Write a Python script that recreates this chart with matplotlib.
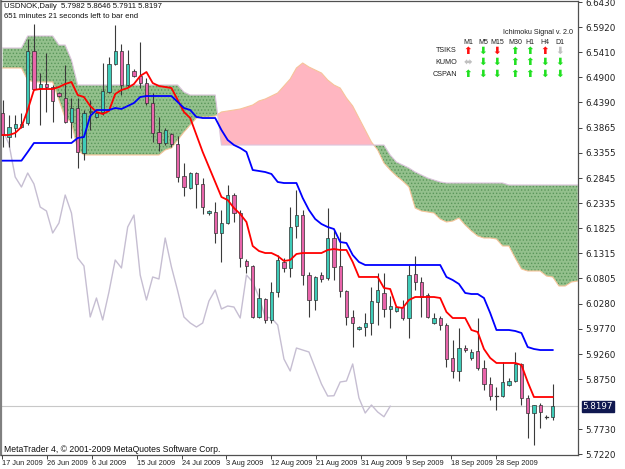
import numpy as np
import matplotlib
matplotlib.use('Agg')
import matplotlib.pyplot as plt
from matplotlib.patches import Rectangle
from matplotlib.transforms import blended_transform_factory

# ---------------- data (USDNOK daily) ----------------
opens = [6.4169, 6.3680, 6.3864, 6.3884, 6.3966, 6.5432, 6.4678, 6.4760, 6.4699, 6.4577,
         6.4475, 6.3986, 6.4271, 6.3354, 6.4190, 6.4088, 6.4190, 6.4597, 6.5167, 6.5432,
         6.4740, 6.5025, 6.4923, 6.4780, 6.4373, 6.3782, 6.3558, 6.3741, 6.3538, 6.2886,
         6.2641, 6.2947, 6.2723, 6.2132, 6.2153, 6.1725, 6.1929, 6.2499, 6.2132, 6.1155,
         6.1053, 6.0014, 6.0380, 5.9953, 6.0523, 6.1134, 6.1012, 6.1867, 6.2091, 6.0869,
         6.0360, 6.0869, 6.0808, 6.1623, 6.1053, 6.0544, 6.0014, 5.9769, 5.9810, 5.9892,
         6.0319, 6.0503, 6.0177, 6.0136, 6.0217, 5.9993, 6.0890, 6.0727, 6.0462, 5.9892,
         5.9993, 5.9851, 5.9179, 5.8914, 5.9382, 5.9179, 5.9321, 5.8975, 5.8649, 5.8404,
         5.8404, 5.8629, 5.8710, 5.9057, 5.8364, 5.8058, 5.8221, 5.7977, 5.7982]
highs = [6.4434, 6.4128, 6.4128, 6.4169, 6.5677, 6.5982, 6.4984, 6.5391, 6.4740, 6.4597,
         6.5147, 6.4475, 6.4475, 6.4230, 6.4434, 6.4210, 6.5188, 6.5310, 6.5962, 6.5575,
         6.5453, 6.5065, 6.5615, 6.4882, 6.4577, 6.4088, 6.3864, 6.3762, 6.3701, 6.3151,
         6.2967, 6.2967, 6.2845, 6.2193, 6.2356, 6.2193, 6.2703, 6.2540, 6.2193, 6.1195,
         6.1073, 6.0605, 6.0401, 6.0727, 6.1277, 6.1216, 6.2254, 6.2601, 6.2193, 6.0931,
         6.0850, 6.0931, 6.2234, 6.1786, 6.1745, 6.0564, 6.0156, 5.9830, 6.0095, 6.0625,
         6.0910, 6.0910, 6.0442, 6.0238, 6.0360, 6.1073, 6.1256, 6.0829, 6.0503, 6.0095,
         6.0034, 5.9892, 5.9545, 5.9790, 5.9443, 5.9362, 5.9993, 5.9138, 5.8792, 5.8588,
         5.9097, 5.8771, 5.9301, 5.9077, 5.8425, 5.8221, 5.8262, 5.8017, 5.8646]
lows = [6.3477, 6.3477, 6.3680, 6.3864, 6.3925, 6.4638, 6.3925, 6.4190, 6.3986, 6.4495,
        6.3966, 6.3660, 6.3049, 6.3212, 6.3823, 6.4067, 6.4128, 6.4577, 6.5147, 6.4536,
        6.4699, 6.4902, 6.4678, 6.4332, 6.3578, 6.3395, 6.3517, 6.3477, 6.2764, 6.2479,
        6.2621, 6.2234, 6.2112, 6.2091, 6.1521, 6.1134, 6.1908, 6.1949, 6.1032, 6.0910,
        5.9993, 5.9993, 5.9892, 5.9892, 6.0421, 6.0931, 6.0829, 6.1623, 6.0666, 6.0014,
        6.0156, 6.0727, 6.0767, 6.0767, 6.0421, 5.9851, 5.9402, 5.9749, 5.9627, 5.9647,
        5.9851, 6.0014, 5.9790, 6.0116, 5.9953, 5.9586, 6.0564, 6.0014, 5.9993, 5.9871,
        5.9749, 5.8995, 5.8771, 5.8710, 5.9301, 5.9138, 5.8934, 5.8527, 5.8323, 5.8119,
        5.8384, 5.8608, 5.8690, 5.8221, 5.7549, 5.7406, 5.7753, 5.7936, 5.7911]
closes = [6.3721, 6.3884, 6.3945, 6.3950, 6.5432, 6.4658, 6.4760, 6.4699, 6.4414, 6.4515,
          6.3986, 6.4271, 6.3375, 6.4169, 6.4210, 6.4169, 6.4617, 6.5167, 6.5432, 6.4740,
          6.5167, 6.4923, 6.4780, 6.4373, 6.3762, 6.3558, 6.3823, 6.3538, 6.2866, 6.2662,
          6.2947, 6.2723, 6.2254, 6.2173, 6.1725, 6.1929, 6.2499, 6.2132, 6.1216, 6.1053,
          6.0014, 6.0401, 5.9953, 6.0523, 6.1175, 6.1012, 6.1847, 6.2091, 6.0869, 6.0360,
          6.0829, 6.0788, 6.1623, 6.1032, 6.0544, 6.0014, 5.9892, 5.9810, 5.9892, 6.0340,
          6.0564, 6.0177, 6.0238, 6.0217, 5.9993, 6.0869, 6.0727, 6.0421, 6.0014, 5.9993,
          5.9851, 5.9158, 5.8914, 5.9382, 5.9341, 5.9301, 5.8975, 5.8649, 5.8404, 5.8410,
          5.8690, 5.8710, 5.9057, 5.8364, 5.8058, 5.8221, 5.8078, 5.7982, 5.8197]

tenkan = [6.3721, 6.3721, 6.3762, 6.3884, 6.4230, 6.4638, 6.4658, 6.4658, 6.4658, 6.4699,
          6.4760, 6.4801, 6.4536, 6.4495, 6.4312, 6.4190, 6.4149, 6.4210, 6.4556, 6.4638,
          6.4678, 6.4760, 6.4923, 6.5004, 6.4780, 6.4719, 6.4699, 6.4678, 6.4434, 6.4190,
          6.4067, 6.3721, 6.3375, 6.3069, 6.2764, 6.2458, 6.2397, 6.2234, 6.2112, 6.1949,
          6.1460, 6.1358, 6.1317, 6.1317, 6.1256, 6.1155, 6.1175, 6.1297, 6.1317, 6.1317,
          6.1317, 6.1317, 6.1379, 6.1399, 6.1379, 6.1379, 6.1134, 6.0829, 6.0829, 6.0829,
          6.0829, 6.0605, 6.0584, 6.0217, 6.0197, 6.0360, 6.0421, 6.0421, 6.0421, 6.0421,
          6.0401, 6.0116, 5.9993, 5.9993, 5.9993, 5.9749, 5.9708, 5.9362, 5.9179, 5.9077,
          5.9077, 5.9077, 5.9077, 5.9036, 5.8690, 5.8384, 5.8384, 5.8384, 5.8384]
kijun = [6.3198, 6.3198, 6.3198, 6.3198, 6.3375, 6.3558, 6.3558, 6.3558, 6.3558, 6.3558,
         6.3558, 6.3558, 6.3660, 6.3680, 6.4108, 6.4230, 6.4230, 6.4230, 6.4271, 6.4251,
         6.4312, 6.4373, 6.4495, 6.4515, 6.4515, 6.4515, 6.4515, 6.4515, 6.4393, 6.4271,
         6.4230, 6.4088, 6.4067, 6.4067, 6.4067, 6.3823, 6.3619, 6.3517, 6.3456, 6.3375,
         6.3008, 6.2988, 6.2967, 6.2927, 6.2764, 6.2743, 6.2743, 6.2743, 6.2438, 6.2193,
         6.2010, 6.1908, 6.1847, 6.1806, 6.1541, 6.1521, 6.1277, 6.1134, 6.1073, 6.1073,
         6.1073, 6.1073, 6.1073, 6.1073, 6.1073, 6.1073, 6.1073, 6.1073, 6.1073, 6.1073,
         6.1073, 6.0829, 6.0767, 6.0686, 6.0503, 6.0482, 6.0482, 6.0401, 6.0095, 5.9749,
         5.9749, 5.9749, 5.9729, 5.9688, 5.9402, 5.9362, 5.9341, 5.9341, 5.9341]
span_a = [6.5086, 6.5086, 6.5086, 6.5086, 6.4841, 6.4801, 6.4801, 6.4801, 6.4801, 6.4434,
          6.4067, 6.3986, 6.3416, 6.3314, 6.3314, 6.3314, 6.3314, 6.3314, 6.3314, 6.3314,
          6.3314, 6.3314, 6.3314, 6.3314, 6.3314, 6.3314, 6.3416, 6.3456, 6.3619, 6.3782,
          6.3925, 6.4067, 6.4088, 6.4088, 6.4108, 6.4190, 6.4210, 6.4230, 6.4251, 6.4291,
          6.4332, 6.4414, 6.4454, 6.4515, 6.4577, 6.4719, 6.4862, 6.5086, 6.5188, 6.5106,
          6.5045, 6.4984, 6.4841, 6.4740, 6.4678, 6.4475, 6.4312, 6.4067, 6.3823, 6.3578,
          6.3416, 6.3151, 6.3008, 6.2886, 6.2784, 6.2662, 6.2234, 6.2173, 6.2153, 6.2132,
          6.2010, 6.1949, 6.1969, 6.2030, 6.1888, 6.1766, 6.1664, 6.1623, 6.1623, 6.1603,
          6.1460, 6.1460, 6.1216, 6.0992, 6.0951, 6.0951, 6.0951, 6.0849, 6.0829, 6.0645,
          6.0645, 6.0727, 6.0747]
span_b = [6.5493, 6.5493, 6.5493, 6.5493, 6.5738, 6.5738, 6.5738, 6.5738, 6.5738, 6.5554,
          6.5554, 6.5249, 6.4740, 6.4740, 6.4740, 6.4740, 6.4740, 6.4740, 6.4740, 6.4740,
          6.4740, 6.4740, 6.4740, 6.4740, 6.4740, 6.4740, 6.4740, 6.4740, 6.4740, 6.4597,
          6.4536, 6.4536, 6.4536, 6.4536, 6.4536, 6.3517, 6.3517, 6.3517, 6.3517, 6.3517,
          6.3517, 6.3517, 6.3517, 6.3517, 6.3517, 6.3517, 6.3517, 6.3517, 6.3517, 6.3517,
          6.3517, 6.3517, 6.3517, 6.3517, 6.3517, 6.3517, 6.3517, 6.3517, 6.3517, 6.3517,
          6.3517, 6.3517, 6.3314, 6.3171, 6.3110, 6.3049, 6.2967, 6.2906, 6.2845, 6.2804,
          6.2764, 6.2743, 6.2743, 6.2743, 6.2743, 6.2743, 6.2743, 6.2743, 6.2743, 6.2743,
          6.2743, 6.2703, 6.2703, 6.2703, 6.2703, 6.2703, 6.2703, 6.2703, 6.2703, 6.2703,
          6.2703, 6.2703, 6.2703]
chikou_shift = 26

price_ticks = [6.6430, 6.5920, 6.5410, 6.4900, 6.4390, 6.3865, 6.3355, 6.2845, 6.2335,
               6.1825, 6.1315, 6.0805, 6.0280, 5.9770, 5.9260, 5.8750, 5.7730, 5.7220]
date_labels = ['17 Jun 2009', '26 Jun 2009', '6 Jul 2009', '15 Jul 2009', '24 Jul 2009',
               '3 Aug 2009', '12 Aug 2009', '21 Aug 2009', '31 Aug 2009', '9 Sep 2009',
               '18 Sep 2009', '28 Sep 2009']
date_bars = [-0.1, 7.1, 14.3, 21.5, 28.7, 35.7, 43.0, 50.1, 57.3, 64.5, 71.7, 79.0]

title_text = 'USDNOK,Daily  5.7982 5.8646 5.7911 5.8197'
timer_text = '651 minutes 21 seconds left to bar end'
copyright_text = 'MetaTrader 4, \u00a9 2001-2009 MetaQuotes Software Corp.'

panel_title = 'Ichimoku Signal v. 2.0'
panel_cols = ['M1', 'M5', 'M15', 'M30', 'H1', 'H4', 'D1']
panel_rows = ['TSIKS', 'KUMO', 'CSPAN']
panel_signals = [['up_red', 'down_green', 'down_red', 'up_green', 'up_green', 'up_red', 'down_gray'],
                 ['flat_gray', 'down_green', 'down_green', 'up_green', 'up_green', 'down_green', 'down_green'],
                 ['up_green', 'down_green', 'down_green', 'up_green', 'up_green', 'down_green', 'down_green']]

# ---------------- figure ----------------
FONT = 'Liberation Sans'
W, H = 625, 469
fig = plt.figure(figsize=(W / 100, H / 100), dpi=100)
fig.patch.set_facecolor('white')
ax = fig.add_axes([1 / W, 14 / H, 577 / W, 454 / H])
ax.set_facecolor('white')

n = len(closes)
x = np.arange(n)
o = np.array(opens); h = np.array(highs); l = np.array(lows); c = np.array(closes)

# cloud
sa = np.array(span_a); sb = np.array(span_b)
xc = np.arange(len(sa))
plt.rcParams['hatch.linewidth'] = 0.6
ax.fill_between(xc, sa, sb, where=sb >= sa, interpolate=True, facecolor='#93c08c',
                edgecolor='#5a965a', hatch='.....', linewidth=0, zorder=1)
ax.fill_between(xc, sa, sb, where=sa > sb, interpolate=True, facecolor='#ffb6c1',
                linewidth=0, zorder=1)
ax.plot(xc, sa, color='#f6c49a', lw=0.8, zorder=1.5)
ax.plot(xc, sb, color='#dcc4dc', lw=0.8, zorder=1.5)

# chikou span
chikou = c[chikou_shift:]
ax.plot(np.arange(len(chikou)), chikou, color='#c6bed2', lw=1.0, zorder=2)

# current price line
ax.axhline(c[-1], color='#c8c8c8', lw=0.8, zorder=1.8)

# candles
bull_col = '#3ecbb8'
bear_col = '#e864aa'
bw = 0.54
for i in range(n):
    ax.plot([i, i], [l[i], h[i]], color='#3a3a3a', lw=0.8, zorder=3, solid_capstyle='butt')
    lo_b = min(o[i], c[i]); hi_b = max(o[i], c[i])
    col = bull_col if c[i] >= o[i] else bear_col
    if hi_b - lo_b < 0.0012:
        ax.plot([i - bw / 2, i + bw / 2], [c[i], c[i]], color='#3a3a3a', lw=0.9, zorder=4)
    else:
        ax.add_patch(Rectangle((i - bw / 2, lo_b), bw, hi_b - lo_b, facecolor=col,
                               edgecolor='#303030', lw=0.5, zorder=4))

# tenkan / kijun
ax.plot(x, tenkan, color='#ff0000', lw=1.3, zorder=5)
ax.plot(x, kijun, color='#0000ff', lw=1.3, zorder=5)

# axes
ax.set_xlim((1 - 2.7) / 6.25, (578 - 2.7) / 6.25)
ax.set_ylim(6.6471 - 0.002037 * 455, 6.6471 - 0.002037 * 1)
for s in ax.spines.values():
    s.set_color('#505050'); s.set_linewidth(0.9)
ax.spines['left'].set_linewidth(1.6)
ax.spines['left'].set_color('#808080')

ax.yaxis.tick_right()
ax.set_yticks(price_ticks)
ax.set_yticklabels([f'{v:.4f}' for v in price_ticks], fontfamily='DejaVu Sans')
ax.tick_params(axis='y', length=3, width=0.7, color='#404040', labelsize=6.3, pad=2,
               labelcolor='#202020')
ax.set_xticks(date_bars)
ax.set_xticklabels(date_labels, fontfamily=FONT)
ax.tick_params(axis='x', length=3, width=0.7, color='#404040', labelsize=5.3, pad=0.8,
               labelcolor='#202020')
for t in ax.get_xticklabels():
    t.set_ha('left')

# current price box
tr = blended_transform_factory(ax.transAxes, ax.transData)
ax.text(1.008, c[-1], f'{c[-1]:.4f}', transform=tr, fontsize=6.3, color='white',
        va='center', ha='left', family='DejaVu Sans',
        bbox=dict(boxstyle='square,pad=0.12', facecolor='#101850', edgecolor='#101850'),
        zorder=10, clip_on=False)

# texts
def ft(px, py, s, **kw):
    kw.setdefault('family', FONT)
    fig.text(px / W, 1 - py / H, s, **kw)

ft(4, 6, title_text, fontsize=5.6, va='center', ha='left', color='#101010')
ft(4, 16, timer_text, fontsize=5.6, va='center', ha='left', color='#101010')
ft(4, 449, copyright_text, fontsize=6.2, va='center', ha='left', color='#101010')

# indicator panel
ft(538, 33, panel_title, fontsize=5.2, va='center', ha='center', color='#202020')
col_x = [468, 483, 497, 515, 530, 545, 560]
row_y = [51, 62, 74]
for cx, name in zip(col_x, panel_cols):
    ft(cx, 42, name, fontsize=5.0, va='center', ha='center', color='#202020')
for ry, name in zip(row_y, panel_rows):
    ft(457, ry, name, fontsize=5.2, va='center', ha='right', color='#202020')
colmap = {'red': '#ff1010', 'green': '#20e020', 'gray': '#c0c0c0'}
glyph = {'up': '\u2b06', 'down': '\u2b07', 'flat': '\u2b0c'}
for r, ry in enumerate(row_y):
    for k, cx in enumerate(col_x):
        d, cl = panel_signals[r][k].split('_')
        ft(cx, ry, glyph[d], fontsize=7.5, va='center', ha='center', color=colmap[cl],
           fontweight='bold', family='DejaVu Sans')

fig.savefig('out.png', dpi=100, facecolor='white')
